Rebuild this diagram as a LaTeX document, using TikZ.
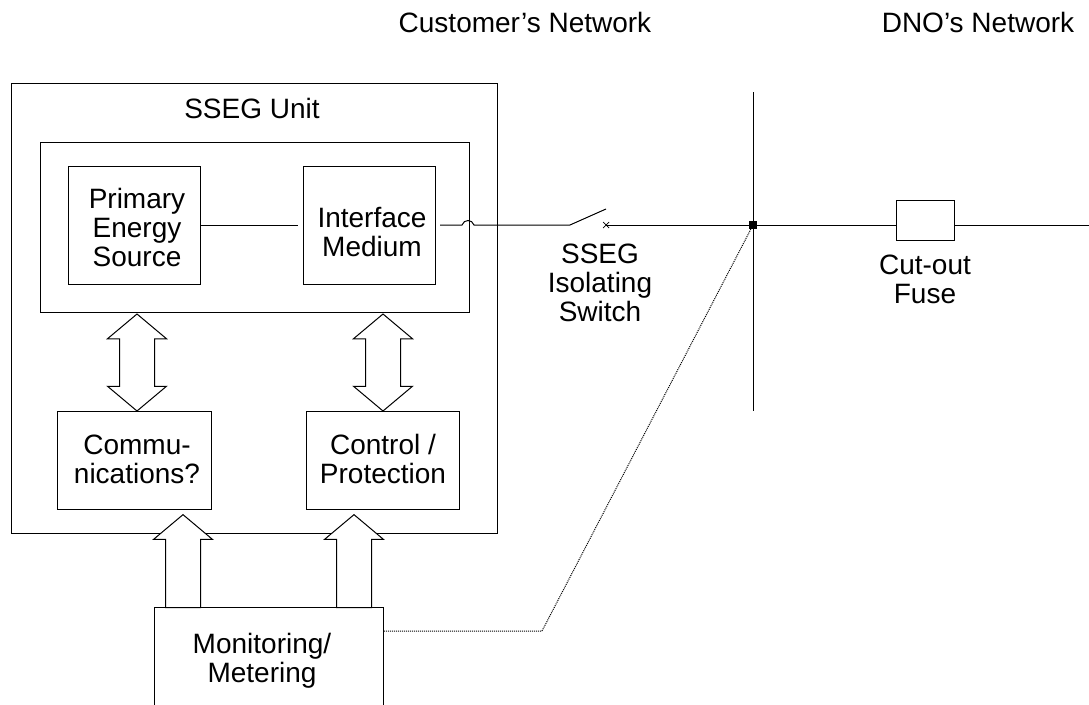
\documentclass[tikz,border=0pt]{standalone}
\usepackage{fontspec}
\setmainfont{Liberation Sans}
\usetikzlibrary{arrows.meta,calc,positioning,shapes.arrows}

\tikzset{
  lbl/.style={align=center,font=\fontsize{28}{29}\selectfont,inner sep=0pt},
  blk/.style={draw,line width=1pt,inner sep=0pt,anchor=north west},
  updown/.style={draw,line width=1pt,double arrow,shape border rotate=90,inner xsep=17pt,inner ysep=0pt,
    minimum height=97pt,double arrow head extend=12pt,double arrow head indent=0pt,double arrow tip angle=100},
  uparrow/.style={draw,line width=1pt,fill=white,single arrow,shape border rotate=90,inner xsep=17pt,inner ysep=0pt,anchor=tip,
    minimum height=93pt,single arrow head extend=12pt,single arrow head indent=0pt,single arrow tip angle=100},
  wire/.style={line width=1pt},
  probe/.style={line width=1pt,densely dotted}
}

\begin{document}
\begin{tikzpicture}[x=1pt,y=-1pt]
    \useasboundingbox (0,0) rectangle (1089,704);

    \node (Customer) [lbl] at (525,22) {Customer's Network};
    \node (DNO) [lbl] at (978,22) {DNO's Network};

    % SSEG unit and what sits in it
    \node (Unit) [blk,minimum width=486pt,minimum height=450pt] at (11,83) {};
    \node (UnitLbl) [lbl] at (252,108) {SSEG Unit};
    \node (Inner) [blk,minimum width=429pt,minimum height=170pt] at (40,142) {};
    \node (Source) [blk,minimum width=132pt,minimum height=118pt] at (68,166) {};
    \node (Medium) [blk,minimum width=132pt,minimum height=118pt] at (303,166) {};
    \node (Comms) [blk,minimum width=154pt,minimum height=98pt] at (57,411) {};
    \node (Control) [blk,minimum width=153pt,minimum height=98pt] at (306,411) {};
    \node (Meter) [blk,minimum width=229pt,minimum height=110pt] at (154,607) {};

    \node (SourceLbl) [lbl] at (137,227) {Primary\\Energy\\Source};
    \node (MediumLbl) [lbl] at (372,232) {Interface\\Medium};
    \node (CommsLbl) [lbl] at (137,459) {Commu-\\nications?};
    \node (ControlLbl) [lbl] at (383,459) {Control /\\Protection};
    \node (MeterLbl) [lbl] at (262,661) {Monitoring/\\Metering};

    \node (ArrowL) [updown] at (137,362.5) {};
    \node (ArrowR) [updown] at (383,362.5) {};
    \node (ArrowA) [uparrow] at (183,514) {};
    \node (ArrowB) [uparrow] at (354,514) {};

    % supply line
    \coordinate (Hinge) at (570,225);
    \coordinate (Blade) at (606,209);
    \coordinate (Contact) at (606,225);
    \coordinate (BusTop) at (753,92);
    \coordinate (BusEnd) at (753,411);
    \coordinate (LineEnd) at (1089,225);
    \coordinate (Bend) at (542,631);
    \node (Joint) [fill=black,inner sep=0pt,minimum size=8pt] at (753,225) {};
    \node (Fuse) [blk,minimum width=58pt,minimum height=40pt] at (896,200) {};

    \draw[wire] (Source.east) -- ($(Medium.west)+(-5,0)$);
    \draw[wire] (440,225) -- (462,225) .. controls (464,219) and (472,219) .. (474,225) -- (Hinge) -- (Blade);
    \draw[wire,line width=.7pt] ($(Contact)+(-3,-3)$) -- ($(Contact)+(3,3)$);
    \draw[wire,line width=.7pt] ($(Contact)+(-3,3)$) -- ($(Contact)+(3,-3)$);
    \draw[wire] (Contact) -- (Joint);
    \draw[wire] (BusTop) -- (BusEnd);
    \draw[wire] (Joint) -- (Joint -| Fuse.west);
    \draw[wire] (Joint -| Fuse.east) -- (LineEnd);
    \draw[probe] (Meter.east |- Bend) -- (Bend) -- (Joint);

    \node (SwitchLbl) [lbl] at (600,283) {SSEG\\Isolating\\Switch};
    \node (FuseLbl) [lbl] at (925,279) {Cut-out\\Fuse};
  \end{tikzpicture}
\end{document}
